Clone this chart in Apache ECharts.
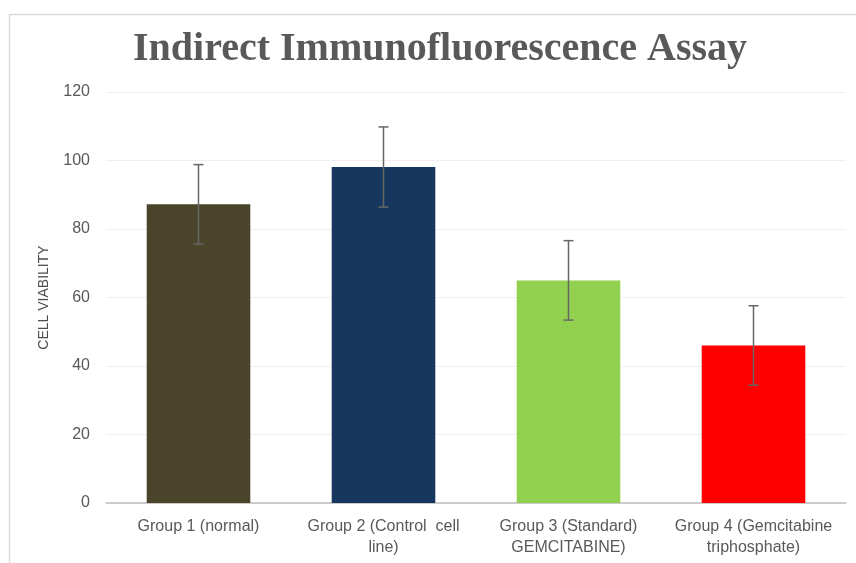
<!DOCTYPE html>
<html>
<head>
<meta charset="utf-8">
<script src="https://cdn.jsdelivr.net/npm/echarts@6/dist/echarts.min.js"></script>
<style>html,body{margin:0;padding:0;background:#fff;}#chart{width:856px;height:563px;}</style>
</head>
<body>
<div id="chart"></div>
<script>
const categories = ['Group 1 (normal)', 'Group 2 (Control  cell\nline)', 'Group 3 (Standard)\nGEMCITABINE)', 'Group 4 (Gemcitabine\ntriphosphate)'];
const values = [87.2, 98.1, 65.0, 46.0];
const errors = [11.6, 11.7, 11.6, 11.6];
const barColors = ['#4a452a', '#17375e', '#92d050', '#ff0000'];
const yTicks = [0, 20, 40, 60, 80, 100, 120];

const chart = echarts.init(document.getElementById('chart'), null, {renderer: 'canvas'});
const option = {
  animation: false,
  backgroundColor: '#fff',
  title: {
    text: 'Indirect Immunofluorescence Assay',
    left: 128,
    top: 25,
    textStyle: {fontFamily: 'Liberation Serif', fontWeight: 'bold', fontSize: 40, color: '#595959'}
  },
  graphic: [{
    type: 'rect', left: 7, top: 12, shape: {width: 900, height: 600},
    style: {fill: 'none', stroke: '#d9d9d9', lineWidth: 1.5}, silent: true
  }],
  grid: {left: 106, right: 10, top: 92, bottom: 60},
  xAxis: {
    type: 'category',
    data: categories,
    axisTick: {show: false},
    axisLine: {lineStyle: {color: '#bfbfbf', width: 1.5}},
    axisLabel: {fontFamily: 'Liberation Sans', fontSize: 16, color: '#595959', lineHeight: 21, margin: 13, interval: 0}
  },
  yAxis: {
    type: 'value',
    min: yTicks[0], max: yTicks[yTicks.length - 1], interval: 20,
    name: 'CELL VIABILITY',
    nameLocation: 'middle',
    nameGap: 55,
    nameTextStyle: {fontFamily: 'Liberation Sans', fontSize: 14, color: '#4d4d4d'},
    axisLine: {show: false},
    axisTick: {show: false},
    splitLine: {lineStyle: {color: '#efefef', width: 1}},
    axisLabel: {fontFamily: 'Liberation Sans', fontSize: 16, color: '#595959', margin: 16}
  },
  series: [{
    type: 'bar',
    barCategoryGap: '44%',
    data: values.map((v, i) => ({value: v, itemStyle: {color: barColors[i]}}))
  }, {
    type: 'custom',
    data: values.map((v, i) => [i, v - errors[i], v + errors[i]]),
    renderItem: function (params, api) {
      const x = api.value(0);
      const lo = api.coord([x, api.value(1)]);
      const hi = api.coord([x, api.value(2)]);
      const hw = 5;
      const st = {stroke: '#666666', lineWidth: 1.5};
      return {
        type: 'group',
        children: [
          {type: 'line', shape: {x1: hi[0], y1: hi[1], x2: lo[0], y2: lo[1]}, style: st},
          {type: 'line', shape: {x1: hi[0] - hw, y1: hi[1], x2: hi[0] + hw, y2: hi[1]}, style: st},
          {type: 'line', shape: {x1: lo[0] - hw, y1: lo[1], x2: lo[0] + hw, y2: lo[1]}, style: st}
        ]
      };
    },
    z: 10
  }]
};
chart.setOption(option);
</script>
</body>
</html>
